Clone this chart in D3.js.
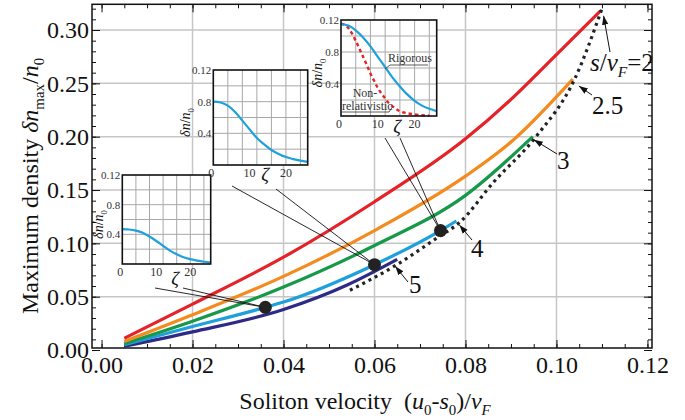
<!DOCTYPE html>
<html>
<head>
<meta charset="utf-8">
<script src="https://cdn.jsdelivr.net/npm/d3@7"></script>
<style>
  body { margin: 0; background: #fff; }
  svg { display: block; }
  text { font-family: "Liberation Serif", "Times New Roman", Times, serif; fill: #111; }
</style>
</head>
<body>
<svg id="chart" width="685" height="420"></svg>
<script>
// ---- maximum density vs soliton velocity, one curve per s/vF ----
const redVel = [0.005, 0.02, 0.04, 0.06, 0.08, 0.09, 0.10, 0.1097];
const redDen = [0.011, 0.043, 0.087, 0.139, 0.198, 0.235, 0.277, 0.318];
const orangeVel = [0.005, 0.02, 0.04, 0.06, 0.08, 0.09, 0.1036];
const orangeDen = [0.008, 0.033, 0.069, 0.112, 0.163, 0.195, 0.254];
const greenVel = [0.005, 0.02, 0.04, 0.06, 0.08, 0.0948];
const greenDen = [0.006, 0.027, 0.059, 0.098, 0.145, 0.200];
const blueVel = [0.005, 0.02, 0.036, 0.04, 0.06, 0.0745, 0.078];
const blueDen = [0.005, 0.022, 0.040, 0.045, 0.080, 0.112, 0.121];
const purpleVel = [0.005, 0.02, 0.04, 0.054, 0.065];
const purpleDen = [0.0035, 0.017, 0.038, 0.061, 0.085];
// limiting curve (dotted)
const limitVel = [0.0546, 0.0649, 0.0737, 0.0788, 0.0861, 0.0955, 0.104, 0.110];
const limitDen = [0.056, 0.080, 0.105, 0.120, 0.157, 0.200, 0.254, 0.320];
// sample solitons marked on the s/vF = 4 curve
const markVel = [0.036, 0.06, 0.0745];
const markDen = [0.040, 0.080, 0.112];
// curve labels
const curveLabels = ["2", "2.5", "3", "4", "5"];
// axis ticks
const xTicks = [0, 0.02, 0.04, 0.06, 0.08, 0.10, 0.12];
const yTicks = [0, 0.05, 0.10, 0.15, 0.20, 0.25, 0.30];

// ---- density profiles in the insets ----
const zeta = [0, 2, 4, 6, 8, 10, 12, 14, 16, 18, 20, 22, 24, 26];
const profileA = [0.047, 0.0465, 0.045, 0.042, 0.037, 0.031, 0.0245, 0.018, 0.013, 0.009, 0.0065, 0.0045, 0.003, 0.002];
const profileB = [0.080, 0.079, 0.075, 0.067, 0.056, 0.045, 0.034, 0.026, 0.019, 0.014, 0.010, 0.0075, 0.0055, 0.004];
const profileC = [0.115, 0.113, 0.107, 0.098, 0.087, 0.074, 0.061, 0.048, 0.037, 0.027, 0.019, 0.013, 0.009, 0.006];
const nonRelZeta = [0, 1, 2, 3, 4, 5, 6, 7, 8, 9, 10, 11, 12, 13, 14, 16, 18, 20, 22, 24];
const nonRelC = [0.115, 0.114, 0.110, 0.103, 0.094, 0.084, 0.074, 0.064, 0.053, 0.044, 0.035, 0.028, 0.022, 0.016, 0.012, 0.006, 0.0035, 0.002, 0.001, 0.0005];
const insetYTicks = [0.12, 0.08, 0.04];
const insetYLabels = ["0.12", "0.8", "0.4"];
const insetXTicks = [0, 10, 20];

const svg = d3.select("#chart");
const L = 92, R = 652, T = 4.3, B = 348;
const x = d3.scaleLinear().domain([-0.0021, 0.121]).range([L, R]);
const y = d3.scaleLinear().domain([0.0019, 0.3241]).range([B, T]);

// helper: text made of styled runs (italic, subscript)
function rich(sel, parts, size) {
  parts.forEach(p => {
    const t = sel.append("tspan").text(p.t);
    if (p.i) t.attr("font-style", "italic");
    if (p.sub) {
      t.attr("font-size", size * 0.62).attr("dy", size * 0.25);
    } else if (p.back) {
      t.attr("dy", -size * 0.25);
    }
  });
  return sel;
}

// grid
const grid = svg.append("g").attr("stroke", "#c6c6c6").attr("stroke-width", 1.5);
grid.selectAll("line.gx").data([0.02, 0.04, 0.06, 0.08, 0.10]).join("line")
  .attr("x1", d => x(d)).attr("x2", d => x(d)).attr("y1", T).attr("y2", B);
grid.selectAll("line.gy").data([0.05, 0.10, 0.15, 0.20, 0.25, 0.30]).join("line")
  .attr("x1", L).attr("x2", R).attr("y1", d => y(d)).attr("y2", d => y(d));

// axes with inward ticks on all four sides
const xMinor = d3.range(0, 0.1201, 0.005);
const yMinor = d3.range(0, 0.3201, 0.01);
function axisPair(axisFn, scale, trans, ticks, minor, labeled) {
  svg.append("g").attr("transform", trans)
    .call(axisFn(scale).tickValues(minor).tickSize(-4).tickFormat(""))
    .call(g => g.select(".domain").remove())
    .call(g => g.selectAll("line").attr("stroke", "#111"));
  const g = svg.append("g").attr("transform", trans)
    .call(axisFn(scale).tickValues(ticks).tickSize(-8).tickPadding(labeled ? 13 : 0)
      .tickFormat(labeled ? d3.format(".2f") : ""));
  g.select(".domain").remove();
  g.selectAll("line").attr("stroke", "#111");
  g.selectAll("text").attr("font-size", 24).attr("fill", "#111");
  return g;
}
const gb = axisPair(d3.axisBottom, x, `translate(0,${B})`, xTicks, xMinor, true);
gb.selectAll("text").attr("dy", "0.62em").attr("y", 10);
axisPair(d3.axisTop, x, `translate(0,${T})`, xTicks, xMinor, false);
const gl = axisPair(d3.axisLeft, y, `translate(${L},0)`, yTicks, yMinor, true);
gl.selectAll("text").attr("x", -3).attr("dy", "0.32em");
axisPair(d3.axisRight, y, `translate(${R},0)`, yTicks, yMinor, false);

svg.append("rect").attr("x", L).attr("y", T).attr("width", R - L).attr("height", B - T)
  .attr("fill", "none").attr("stroke", "#111").attr("stroke-width", 1.5);

// curves
const line = d3.line().x(d => x(d[0])).y(d => y(d[1])).curve(d3.curveMonotoneX);
const series = [
  { v: purpleVel, d: purpleDen, c: "#2e2a86" },
  { v: blueVel, d: blueDen, c: "#1ea0dc" },
  { v: greenVel, d: greenDen, c: "#17994a" },
  { v: orangeVel, d: orangeDen, c: "#f38b1f" },
  { v: redVel, d: redDen, c: "#e52228" }
];
series.forEach(s => {
  svg.append("path").datum(d3.zip(s.v, s.d)).attr("d", line)
    .attr("fill", "none").attr("stroke", s.c).attr("stroke-width", 3.2);
});
svg.append("path").datum(d3.zip(limitVel, limitDen)).attr("d", line)
  .attr("fill", "none").attr("stroke", "#222").attr("stroke-width", 3.2)
  .attr("stroke-dasharray", "3,4");

// arrow marker
svg.append("defs").append("marker").attr("id", "ah")
  .attr("viewBox", "0 0 10 10").attr("refX", 10).attr("refY", 5)
  .attr("markerWidth", 9).attr("markerHeight", 9).attr("markerUnits", "userSpaceOnUse")
  .attr("orient", "auto")
  .append("path").attr("d", "M0,1.5 L10,5 L0,8.5 Z").attr("fill", "#111");

// curve-end annotations: [end vel, end den, tip offset, tail point, text x, text baseline]
const ends = [
  [redVel.at(-1), redDen.at(-1), [3, 5], [610, 52], 590, 71],
  [orangeVel.at(-1), orangeDen.at(-1), [6, 7], [592, 95], 592, 114],
  [greenVel.at(-1), greenDen.at(-1), [1, 3], [557, 154], 557, 169],
  [blueVel.at(-1), blueDen.at(-1), [3, 4], [472, 240], 471, 257],
  [purpleVel.at(-1), purpleDen.at(-1), [-2, 7], [408, 282], 409, 293]
];
ends.forEach((e, i) => {
  const tx = x(e[0]) + e[2][0], ty = y(e[1]) + e[2][1];
  svg.append("line").attr("x1", e[3][0]).attr("y1", e[3][1]).attr("x2", tx).attr("y2", ty)
    .attr("stroke", "#111").attr("stroke-width", 1).attr("marker-end", "url(#ah)");
  const t = svg.append("text").attr("x", e[4]).attr("y", e[5]).attr("font-size", 25);
  if (i === 0) {
    rich(t, [{ t: "s", i: 1 }, { t: "/" }, { t: "v", i: 1 }, { t: "F", sub: 1, i: 1 },
      { t: "=" + curveLabels[i], back: 1 }], 25);
  } else {
    t.text(curveLabels[i]);
  }
});

// axis titles
const xt = svg.append("text").attr("x", 365).attr("y", 409).attr("text-anchor", "middle").attr("font-size", 24);
rich(xt, [{ t: "Soliton velocity\u00a0\u00a0(" }, { t: "u", i: 1 }, { t: "0", sub: 1 }, { t: "-", back: 1 },
  { t: "s", i: 1 }, { t: "0", sub: 1 }, { t: ")/", back: 1 }, { t: "v", i: 1 }, { t: "F", sub: 1, i: 1 }], 24);
const yt = svg.append("text").attr("transform", "translate(38,186) rotate(-90)")
  .attr("text-anchor", "middle").attr("font-size", 24);
rich(yt, [{ t: "Maximum density " }, { t: "δn", i: 1 }, { t: "max", sub: 1 }, { t: "/", back: 1 },
  { t: "n", i: 1 }, { t: "0", sub: 1 }], 24);

// insets
function inset(frame, profiles, zetaLabel, labelGap) {
  const g = svg.append("g");
  const ix = d3.scaleLinear().domain([0, 26]).range([frame.x0, frame.x1]);
  const iy = d3.scaleLinear().domain([0, 0.12]).range([frame.y1, frame.y0]);
  g.append("rect").attr("x", frame.x0).attr("y", frame.y0)
    .attr("width", frame.x1 - frame.x0).attr("height", frame.y1 - frame.y0).attr("fill", "#fff");
  const gg = g.append("g").attr("stroke", "#a8a8a8").attr("stroke-width", 1);
  gg.selectAll("line.v").data([4, 8, 12, 16, 20, 24]).join("line")
    .attr("x1", d => ix(d)).attr("x2", d => ix(d)).attr("y1", frame.y0).attr("y2", frame.y1);
  gg.selectAll("line.h").data([0.02, 0.04, 0.06, 0.08, 0.10]).join("line")
    .attr("x1", frame.x0).attr("x2", frame.x1).attr("y1", d => iy(d)).attr("y2", d => iy(d));
  const il = d3.line().x(d => ix(d[0])).y(d => iy(d[1])).curve(d3.curveMonotoneX);
  profiles.forEach(p => {
    g.append("path").datum(d3.zip(p.z, p.n)).attr("d", il).attr("fill", "none")
      .attr("stroke", p.c).attr("stroke-width", p.w).attr("stroke-dasharray", p.dash || null);
  });
  g.append("rect").attr("x", frame.x0).attr("y", frame.y0)
    .attr("width", frame.x1 - frame.x0).attr("height", frame.y1 - frame.y0)
    .attr("fill", "none").attr("stroke", "#111").attr("stroke-width", 1.6);
  g.selectAll("text.yl").data(insetYTicks).join("text")
    .attr("x", frame.x0 - 2).attr("y", d => iy(d) + 4).attr("text-anchor", "end")
    .attr("font-size", 11).style("fill", "#333").text((d, i) => insetYLabels[i]);
  g.selectAll("text.xl").data(insetXTicks).join("text")
    .attr("x", d => ix(d) - (d === 0 ? 2 : 0)).attr("y", frame.y1 + 12).attr("text-anchor", "middle")
    .attr("font-size", 12).style("fill", "#333").text(d => d);
  const yl = g.append("text").attr("text-anchor", "middle").attr("font-size", 14)
    .attr("transform", `translate(${frame.x0 - labelGap},${(frame.y0 + frame.y1) / 2 + 5}) rotate(-90)`);
  rich(yl, [{ t: "δn", i: 1 }, { t: "/" }, { t: "n", i: 1 }, { t: "0", sub: 1 }], 14);
  g.append("text").attr("x", zetaLabel[0]).attr("y", zetaLabel[1]).attr("text-anchor", "middle")
    .attr("font-size", 19).attr("font-style", "italic").text("ζ");
  return { g, ix, iy };
}

const fA = { x0: 122.3, x1: 210.7, y0: 175, y1: 264 };
const fB = { x0: 213.3, x1: 307.7, y0: 70, y1: 165 };
const fC = { x0: 341, x1: 436.7, y0: 20, y1: 116 };
inset(fA, [{ z: zeta, n: profileA, c: "#1ea0dc", w: 2.2 }], [175, 285], 19);
inset(fB, [{ z: zeta, n: profileB, c: "#1ea0dc", w: 2.2 }], [265, 181], 23);
const iC = inset(fC, [
  { z: nonRelZeta, n: nonRelC, c: "#e52228", w: 2.4, dash: "3.5,3" },
  { z: zeta, n: profileC, c: "#1ea0dc", w: 2.2 }
], [397, 133], 19);

// inset C callouts
iC.g.append("text").attr("x", 388).attr("y", 62).attr("font-size", 12).style("fill", "#333").text("Rigorous");
iC.g.append("polyline").attr("points", "385,69 390,65 428,65").attr("fill", "none").attr("stroke", "#333").attr("stroke-width", 0.8);
iC.g.append("text").attr("x", 365).attr("y", 97).attr("text-anchor", "middle").attr("font-size", 12).style("fill", "#333").text("Non-");
iC.g.append("text").attr("x", 342).attr("y", 110).attr("font-size", 12).style("fill", "#333").text("relativistic");
iC.g.append("polyline").attr("points", "342,112 389,112 393,106").attr("fill", "none").attr("stroke", "#333").attr("stroke-width", 0.8);

// leader lines from each ζ label to its marked soliton
const leaders = [
  [[155, 288], [183, 288]],
  [[232, 186], [276, 189]],
  [[385, 138], [400, 138]]
];
leaders.forEach((pair, i) => {
  pair.forEach(p => {
    svg.append("line").attr("x1", p[0]).attr("y1", p[1])
      .attr("x2", x(markVel[i])).attr("y2", y(markDen[i]))
      .attr("stroke", "#111").attr("stroke-width", 0.9);
  });
});
svg.selectAll("circle.mark").data(d3.zip(markVel, markDen)).join("circle")
  .attr("cx", d => x(d[0])).attr("cy", d => y(d[1])).attr("r", 6.5).attr("fill", "#222");
</script>
</body>
</html>
